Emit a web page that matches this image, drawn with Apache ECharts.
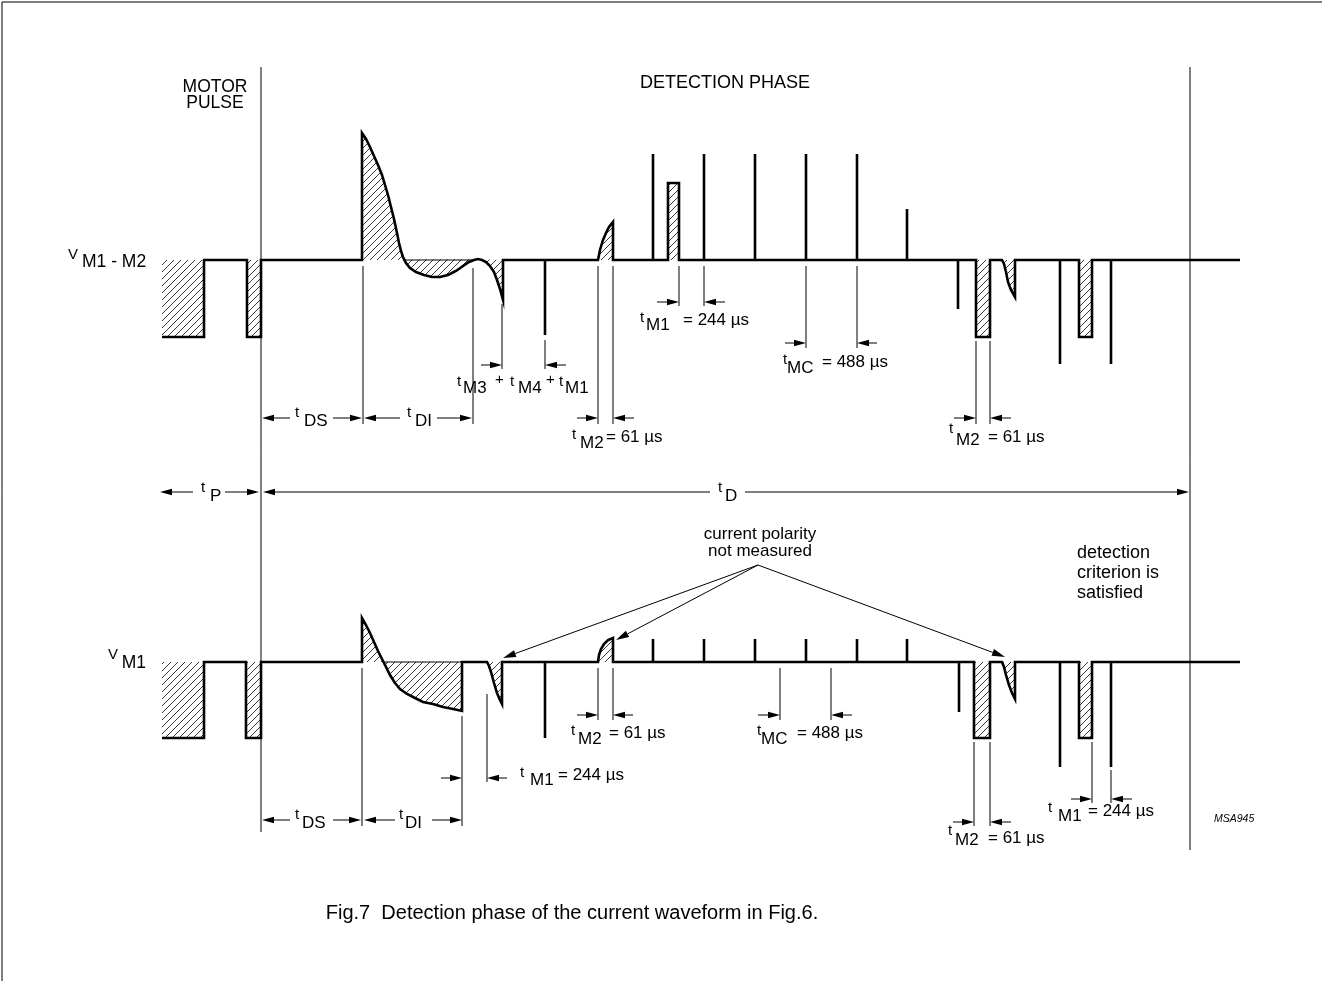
<!DOCTYPE html>
<html><head><meta charset="utf-8">
<script src="https://cdn.jsdelivr.net/npm/echarts/dist/echarts.min.js"></script>
<style>html,body{margin:0;padding:0;background:#fff}#c{width:1322px;height:981px}</style>
</head><body><div id="c"></div>
<script>
// ---- waveform curve pieces (diagram units = px of the 1322x981 sheet) ----
const topSpikeCurve = [[362,133],[366,139],[370,147],[374,156],[378,165],[382,175],[385,185],[388,195],[391,207],[394,219],[397,233],[399,243],[401,251],[403,257],[406,263],[410,268],[416,272],[424,275],[432,277],[440,277],[448,275],[456,271],[463,266],[469,262],[474,260],[478,259]];
const topDipCurve = [[478,259],[482,260],[486,262],[490,266],[494,272],[497,280],[500,289],[503,300]];
const topBumpCurve = [[598,260],[600,250],[603,240],[606,233],[609,227],[613,222]];
const topRightDip = [[1002,260],[1004,264],[1006,272],[1008,282],[1011,290],[1015,297]];

const botSpikeCurve = [[362,618],[366,625],[370,633],[374,642],[378,651],[382,659],[386,667],[390,675],[395,683],[400,689],[407,694],[415,698],[423,702],[433,704],[443,707],[453,709],[462,711]];
const botDipCurve = [[487,662],[489,666],[491,672],[494,683],[497,693],[500,700],[502,704]];
const botBumpCurve = [[598,662],[599,655],[601,649],[604,644],[608,640],[613,638]];
const botRightDip = [[1002,662],[1004,667],[1006,675],[1009,685],[1012,693],[1015,699]];

// ---- traces ----
const topTrace = [[162,337],[204,337],[204,260],[247,260],[247,337],[261,337],[261,260],[362,260],
  ...topSpikeCurve, ...topDipCurve.slice(1),
  [503,260],[545,260],[545,335],[545,260], ...topBumpCurve, [613,260],
  [653,260],[653,154],[653,260],[668,260],[668,183],[679,183],[679,260],
  [704,260],[704,154],[704,260],[755,260],[755,154],[755,260],[806,260],[806,154],[806,260],
  [857,260],[857,154],[857,260],[907,260],[907,209],[907,260],
  [958,260],[958,309],[958,260],[976,260],[976,337],[990,337],[990,260], ...topRightDip, [1015,260],
  [1060,260],[1060,364],[1060,260],[1079,260],[1079,337],[1092,337],[1092,260],
  [1111,260],[1111,364],[1111,260],[1240,260]];

const bottomTrace = [[162,738],[204,738],[204,662],[246,662],[246,738],[261,738],[261,662],[362,662],
  ...botSpikeCurve, [462,662], ...botDipCurve, [502,662],
  [545,662],[545,738],[545,662], ...botBumpCurve, [613,662],
  [653,662],[653,639],[653,662],[704,662],[704,639],[704,662],[755,662],[755,639],[755,662],
  [806,662],[806,639],[806,662],[857,662],[857,639],[857,662],[907,662],[907,639],[907,662],
  [959,662],[959,712],[959,662],[974,662],[974,738],[990,738],[990,662], ...botRightDip, [1015,662],
  [1060,662],[1060,767],[1060,662],[1079,662],[1079,738],[1092,738],[1092,662],
  [1111,662],[1111,767],[1111,662],[1240,662]];

// ---- hatched areas ----
const hatchAreas = [
  [[162,260],[204,260],[204,337],[162,337]],
  [[247,260],[261,260],[261,337],[247,337]],
  [[362,260], ...topSpikeCurve],
  [...topDipCurve, [503,260]],
  [...topBumpCurve, [613,260]],
  [[668,260],[668,183],[679,183],[679,260]],
  [[976,260],[976,337],[990,337],[990,260]],
  [...topRightDip, [1015,260]],
  [[1079,260],[1079,337],[1092,337],[1092,260]],
  [[162,662],[204,662],[204,738],[162,738]],
  [[246,662],[261,662],[261,738],[246,738]],
  [[362,662], ...botSpikeCurve, [462,662]],
  [...botDipCurve, [502,662]],
  [...botBumpCurve, [613,662]],
  [[974,662],[974,738],[990,738],[990,662]],
  [...botRightDip, [1015,662]],
  [[1079,662],[1079,738],[1092,738],[1092,662]]
];

// ---- thin guide / extension lines [x1,y1,x2,y2] ----
const guideLines = [
  [2,2,1322,2],[2,2,2,981],
  [261,67,261,832],[1190,67,1190,850],
  [403,260,474,260],[383,662,462,662],
  [363,266,363,424],[473,268,473,424],[502,304,502,369],[545,340,545,369],
  [598,266,598,424],[613,266,613,424],[679,266,679,306],[704,266,704,306],
  [806,266,806,348],[857,266,857,348],[976,341,976,424],[990,341,990,424],
  [362,668,362,826],[462,716,462,826],[487,694,487,782],
  [598,668,598,720],[613,668,613,720],[780,668,780,720],[831,668,831,720],
  [974,742,974,826],[990,742,990,826],[1092,742,1092,803],[1111,770,1111,803]
];

// ---- dimension arrows [tailX,tailY,tipX,tipY] ----
const dimArrows = [
  [290,418,262,418],[333,418,362,418],[400,418,364,418],[437,418,472,418],
  [481,365,502,365],[566,365,545,365],
  [577,418,598,418],[634,418,613,418],
  [657,302,679,302],[725,302,704,302],
  [785,343,806,343],[877,343,857,343],
  [954,418,976,418],[1011,418,990,418],
  [193,492,160,492],[225,492,259,492],[710,492,263,492],[745,492,1189,492],
  [290,820,262,820],[333,820,361,820],[395,820,364,820],[432,820,462,820],
  [441,778,462,778],[507,778,487,778],
  [577,715,598,715],[633,715,613,715],
  [758,715,780,715],[852,715,831,715],
  [953,822,974,822],[1011,822,990,822],
  [1071,799,1092,799],[1132,799,1111,799]
];
const noteArrows = [[758,565,503,658],[758,565,616,640],[758,565,1005,657]];

// ---- text pieces [text, x, y, size, align, style] ----
const labelPieces = [
  ['MOTOR',215,87,17.5,'center'],['PULSE',215,103,17.5,'center'],
  ['DETECTION PHASE',725,83,18,'center'],
  ['V',68,255,15],['M1 - M2',82,262,17.5],
  ['t',295,413,15],['DS',304,421,17],
  ['t',407,413,15],['DI',415,421,17],
  ['t',457,382,15],['M3',463,388,17],['+',495,380,15],['t',510,382,15],['M4',518,388,17],['+',546,380,15],['t',559,382,15],['M1',565,388,17],
  ['t',572,435,15],['M2',580,443,17],['= 61 µs',606,437,17],
  ['t',640,318,15],['M1',646,325,17],['= 244 µs',683,320,17],
  ['t',783,360,15],['MC',787,368,17],['= 488 µs',822,362,17],
  ['t',949,429,15],['M2',956,440,17],['= 61 µs',988,437,17],
  ['t',201,488,15],['P',210,496,17],
  ['t',718,488,15],['D',725,496,17],
  ['current polarity',760,534,17,'center'],['not measured',760,551,17,'center'],
  ['detection',1077,553,18],['criterion is',1077,573,18],['satisfied',1077,593,18],
  ['V',118,655,15,'right'],['M1',146,663,17.5,'right'],
  ['t',520,773,15],['M1',530,780,17],['= 244 µs',558,775,17],
  ['t',571,731,15],['M2',578,739,17],['= 61 µs',609,733,17],
  ['t',757,731,15],['MC',761,739,17],['= 488 µs',797,733,17],
  ['t',295,815,15],['DS',302,823,17],
  ['t',399,815,15],['DI',405,823,17],
  ['t',948,831,15],['M2',955,840,17],['= 61 µs',988,838,17],
  ['t',1048,808,15],['M1',1058,816,17],['= 244 µs',1088,811,17],
  ['MSA945',1214,819,10.5,'left','italic'],
  ['Fig.7  Detection phase of the current waveform in Fig.6.',572,913,20,'center']
];

// ---- rendering ----
function makeHatch(){
  const s=7, c=document.createElement('canvas'); c.width=s; c.height=s;
  const g=c.getContext('2d'); g.strokeStyle='#222'; g.lineWidth=0.9;
  g.beginPath(); g.moveTo(0,s); g.lineTo(s,0); g.moveTo(-2,2); g.lineTo(2,-2); g.moveTo(s-2,s+2); g.lineTo(s+2,s-2); g.stroke();
  return c;
}
const hatchFill = {image: makeHatch(), repeat: 'repeat'};
const FONT = '"Liberation Sans", Arial, Helvetica, sans-serif';

function arrowShape(a, api, L, W, lw){
  const t = api.coord([a[0],a[1]]), h = api.coord([a[2],a[3]]);
  const dx=h[0]-t[0], dy=h[1]-t[1], len=Math.hypot(dx,dy), ux=dx/len, uy=dy/len;
  const bx=h[0]-ux*L, by=h[1]-uy*L, nx=-uy*W, ny=ux*W;
  return {type:'group', children:[
    {type:'line', shape:{x1:t[0],y1:t[1],x2:bx,y2:by}, style:{stroke:'#000', lineWidth:lw}},
    {type:'polygon', shape:{points:[h,[bx+nx,by+ny],[bx-nx,by-ny]]}, style:{fill:'#000'}}
  ]};
}

const chart = echarts.init(document.getElementById('c'), null, {renderer:'canvas'});
chart.setOption({
  animation:false,
  backgroundColor:'#fff',
  grid:{left:0,right:0,top:0,bottom:0},
  xAxis:{type:'value',min:0,max:1322,show:false},
  yAxis:{type:'value',min:0,max:981,inverse:true,show:false},
  series:[
    {type:'custom', silent:true, data: hatchAreas.map(p=>p[0]),
     renderItem:(params,api)=>({type:'polygon', shape:{points: hatchAreas[params.dataIndex].map(p=>api.coord(p))}, style:{fill:hatchFill, stroke:null}})},
    {type:'custom', silent:true, data: guideLines.map(l=>[l[0],l[1]]),
     renderItem:(params,api)=>{const l=guideLines[params.dataIndex]; const a=api.coord([l[0],l[1]]), b=api.coord([l[2],l[3]]);
       return {type:'line', shape:{x1:a[0],y1:a[1],x2:b[0],y2:b[1]}, style:{stroke:'#000', lineWidth:1}};}},
    {type:'custom', silent:true, data:[topTrace[0], bottomTrace[0]],
     renderItem:(params,api)=>({type:'polyline', shape:{points:(params.dataIndex===0?topTrace:bottomTrace).map(p=>api.coord(p))},
       style:{stroke:'#000', lineWidth:2.6, fill:null, lineJoin:'miter', lineCap:'butt'}})},
    {type:'custom', silent:true, data: dimArrows.map(a=>[a[0],a[1]]),
     renderItem:(params,api)=>arrowShape(dimArrows[params.dataIndex], api, 12, 3.2, 1)},
    {type:'custom', silent:true, data: noteArrows.map(a=>[a[0],a[1]]),
     renderItem:(params,api)=>arrowShape(noteArrows[params.dataIndex], api, 13, 3.6, 1)},
    {type:'custom', silent:true, data: labelPieces.map(l=>[l[1],l[2]]),
     renderItem:(params,api)=>{const l=labelPieces[params.dataIndex]; const p=api.coord([l[1],l[2]]);
       return {type:'text', x:p[0], y:p[1], style:{text:l[0], fill:'#000',
         font:(l[5]?l[5]+' ':'')+l[3]+'px '+FONT, align:l[4]||'left', verticalAlign:'middle'}};}}
  ]
});
</script></body></html>
